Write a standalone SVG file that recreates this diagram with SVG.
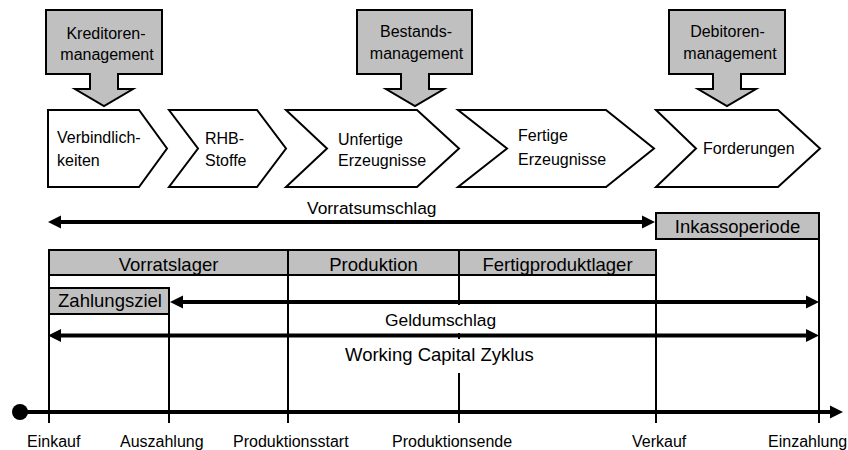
<svg xmlns="http://www.w3.org/2000/svg" width="848" height="450" viewBox="0 0 848 450">
<style>
text{font-family:"Liberation Sans",Arial,sans-serif;fill:#000}
.t16{font-size:16px}
.t17{font-size:17.4px}
.t18{font-size:18.5px}
.mid{text-anchor:middle}
.callout{fill:#c0c0c0;stroke:#000;stroke-width:2;stroke-linejoin:miter}
.chev{fill:#fff;stroke:#000;stroke-width:2;stroke-linejoin:miter}
.gray{fill:#c0c0c0;stroke:#000;stroke-width:2}
.vl{stroke:#000;stroke-width:2;fill:none}
.arr{stroke:#000;stroke-width:4;fill:none}
</style>
<defs>
<marker id="ah" viewBox="0 -7 14 14" markerWidth="14" markerHeight="14" refX="0" refY="0" markerUnits="userSpaceOnUse" orient="auto-start-reverse">
<path d="M0,-6.5 L13,0 L0,6.5 Z" fill="#000"/>
</marker>
</defs>
<rect width="848" height="450" fill="#fff"/>

<g id="kreditoren">
<path class="callout" d="M46,10 H162 V74 H118 V89 H133 L104,106 L75,89 H90 V74 H46 Z"/>
<text class="t16 mid" x="106" y="38.5">Kreditoren-</text>
<text class="t16 mid" x="107" y="60">management</text>
</g>
<g id="bestands">
<path class="callout" d="M357,10 H472 V74 H429 V89 H444 L415,106 L386,89 H401 V74 H357 Z"/>
<text class="t16 mid" x="416" y="37">Bestands-</text>
<text class="t16 mid" x="416.5" y="58.5">management</text>
</g>
<g id="debitoren">
<path class="callout" d="M669,10 H785 V74 H741 V89 H756 L727,106 L698,89 H713 V74 H669 Z"/>
<text class="t16 mid" x="727.5" y="37">Debitoren-</text>
<text class="t16 mid" x="730" y="58.5">management</text>
</g>

<g id="verbindlichkeiten">
<path class="chev" d="M48,110 H139 L167,148.5 L139,187 H48 Z"/>
<text class="t16" x="57" y="142.5">Verbindlich-</text>
<text class="t16" x="57" y="165.5">keiten</text>
</g>
<g id="rhb">
<path class="chev" d="M169,110 H257 L286,148.5 L257,187 H169 L198,148.5 Z"/>
<text class="t16" x="205" y="144">RHB-</text>
<text class="t16" x="205" y="166">Stoffe</text>
</g>
<g id="unfertige">
<path class="chev" d="M286,110 H417 L459,148.5 L417,187 H286 L327,148.5 Z"/>
<text class="t16" x="338" y="144.5">Unfertige</text>
<text class="t16" x="338" y="165.5">Erzeugnisse</text>
</g>
<g id="fertige">
<path class="chev" d="M458,110 H606 L654,148.5 L606,187 H458 L507,148.5 Z"/>
<text class="t16" x="518" y="141">Fertige</text>
<text class="t16" x="518" y="165">Erzeugnisse</text>
</g>
<g id="forderungen">
<path class="chev" d="M656,110 H778 L820,148.5 L778,187 H656 L696,148.5 Z"/>
<text class="t16" x="703" y="153.5">Forderungen</text>
</g>

<g id="timeline-verticals">
<path class="vl" d="M49,250 V423 M169,288 V423 M288,250 V423 M459,250 V423 M656,250 V423 M819,213 V423"/>
</g>

<g id="inkassoperiode">
<rect class="gray" x="656" y="213" width="163" height="26"/>
<text class="t18 mid" x="737.5" y="233">Inkassoperiode</text>
</g>
<g id="vorratslager">
<rect class="gray" x="49" y="250" width="239" height="25"/>
<text class="t18 mid" x="168.5" y="270.5">Vorratslager</text>
</g>
<g id="produktion">
<rect class="gray" x="288" y="250" width="171" height="25"/>
<text class="t18 mid" x="373.5" y="270.5">Produktion</text>
</g>
<g id="fertigproduktlager">
<rect class="gray" x="459" y="250" width="197" height="25"/>
<text class="t18 mid" x="557.5" y="270.5">Fertigproduktlager</text>
</g>
<g id="zahlungsziel">
<rect class="gray" x="49" y="288" width="120" height="26"/>
<text class="t18 mid" x="110" y="306.5">Zahlungsziel</text>
</g>

<g id="label-backgrounds" fill="#fff">
<rect x="382" y="305" width="117" height="28"/>
<rect x="342" y="339" width="196" height="34"/>
</g>

<g id="connectors">
<path class="arr" d="M61,222 H642" marker-start="url(#ah)" marker-end="url(#ah)"/>
<path class="arr" d="M183,302 H806" marker-start="url(#ah)" marker-end="url(#ah)"/>
<path class="arr" d="M61,335.5 H806" marker-start="url(#ah)" marker-end="url(#ah)"/>
<path class="arr" d="M20,412 H830" marker-end="url(#ah)"/>
<circle cx="20" cy="412" r="8" fill="#000"/>
</g>

<g id="labels">
<text class="t17" x="307" y="214">Vorratsumschlag</text>
<text class="t17" x="385" y="325.5">Geldumschlag</text>
<text class="t18" x="345" y="361">Working Capital Zyklus</text>
<text class="t16" x="27" y="446.5">Einkauf</text>
<text class="t16" x="120" y="446.5">Auszahlung</text>
<text class="t16" x="233" y="446.5">Produktionsstart</text>
<text class="t16" x="392" y="446.5">Produktionsende</text>
<text class="t16" x="632" y="446.5">Verkauf</text>
<text class="t16" x="768" y="446.5">Einzahlung</text>
</g>
</svg>
